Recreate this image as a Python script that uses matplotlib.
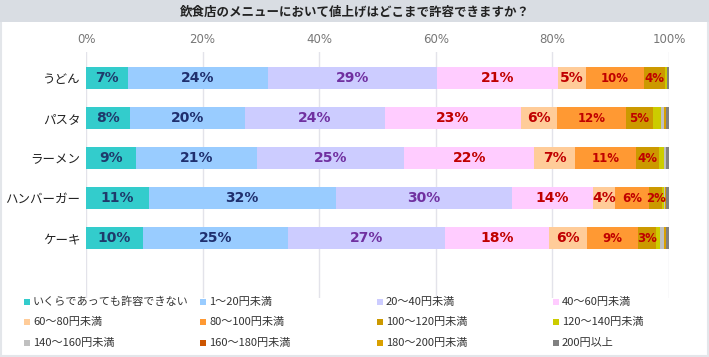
import matplotlib
matplotlib.use("Agg")
import matplotlib.pyplot as plt
from matplotlib.patches import Rectangle
import numpy as np

plt.rcParams['font.family'] = ['Noto Sans CJK JP', 'DejaVu Sans']

title = "飲食店のメニューにおいて値上げはどこまで許容できますか？"
categories = ["うどん", "パスタ", "ラーメン", "ハンバーガー", "ケーキ"]
series_names = ["いくらであっても許容できない", "1～20円未満", "20～40円未満", "40～60円未満",
                "60～80円未満", "80～100円未満", "100～120円未満", "120～140円未満",
                "140～160円未満", "160～180円未満", "180～200円未満", "200円以上"]
# values per series, order of categories
v_none   = [7.2, 7.5, 8.6, 10.8, 9.8]
v_1_20   = [24.0, 19.8, 20.7, 32.0, 24.9]
v_20_40  = [29.0, 24.0, 25.3, 30.2, 26.8]
v_40_60  = [20.8, 23.3, 22.3, 13.9, 18.0]
v_60_80  = [4.8, 6.2, 6.9, 3.9, 6.5]
v_80_100 = [9.9, 11.8, 10.6, 5.8, 8.7]
v_100_120 = [3.6, 4.6, 3.8, 2.2, 3.1]
v_120_140 = [0.4, 1.4, 0.9, 0.3, 0.6]
v_140_160 = [0.0, 0.6, 0.3, 0.2, 0.8]
v_160_180 = [0.0, 0.0, 0.0, 0.0, 0.0]
v_180_200 = [0.0, 0.2, 0.1, 0.1, 0.2]
v_200 = [0.5, 0.9, 0.5, 0.6, 0.9]
values = [v_none, v_1_20, v_20_40, v_40_60, v_60_80, v_80_100, v_100_120,
          v_120_140, v_140_160, v_160_180, v_180_200, v_200]
ticks = [0, 20, 40, 60, 80, 100]
tick_labels = ["0%", "20%", "40%", "60%", "80%", "100%"]

colors = ["#33CCCC", "#99CCFF", "#CCCCFF", "#FFCCFF", "#FFCC99", "#FF9933",
          "#CC9900", "#CCCC00", "#C0C0C0", "#CC5500", "#D9A000", "#808080"]
label_colors = ["#1F3A6B", "#1F2F6E", "#7030A0", "#C00000", "#C00000", "#C00000",
                "#C00000", None, None, None, None, None]
label_sizes = [10, 10, 10, 10, 10, 8.5, 8.5, 8, 8, 8, 8, 8]

W, H = 709, 357
fig = plt.figure(figsize=(W/100, H/100), dpi=100)
fig.patch.set_facecolor("white")
# border
fig.add_artist(Rectangle((0.002, 0.004), 0.996, 0.993, transform=fig.transFigure,
                         fill=False, edgecolor="#E3E6EA", linewidth=1.5))
# title band
fig.add_artist(Rectangle((0, 1 - 22/H), 1, 22/H, transform=fig.transFigure,
                         facecolor="#D9DDE3", edgecolor="none"))
fig.text(0.5, 1 - 12/H, title, ha="center", va="center", fontsize=9,
         fontweight="bold", color="#222222")

ax = fig.add_axes([86/W, 1 - 298/H, (669-86)/W, (298-52)/H])
y = np.arange(len(categories))
left = np.zeros(len(categories))
for i, (vals, c) in enumerate(zip(values, colors)):
    vals = np.array(vals)
    ax.barh(y, vals, left=left, height=0.56, color=c, label=series_names[i], zorder=3)
    if label_colors[i] is not None:
        for j in range(len(categories)):
            if vals[j] >= 1.5:
                ax.text(left[j] + vals[j]/2, y[j], f"{round(vals[j])}%", ha="center",
                        va="center", fontsize=label_sizes[i], fontweight="bold",
                        color=label_colors[i], family="DejaVu Sans", zorder=4)
    left += vals

ax.set_xlim(0, 100)
ax.set_ylim(len(categories) - 1 + 1.5, -0.65)
ax.set_xticks(ticks)
ax.set_xticklabels(tick_labels, color="#777777", fontsize=8.5, family="DejaVu Sans")
ax.xaxis.tick_top()
ax.tick_params(axis="x", length=0, pad=4)
ax.set_yticks(y)
ax.set_yticklabels(categories, fontsize=9, color="#222222")
ax.tick_params(axis="y", length=0, pad=4)
ax.grid(axis="x", color="#E3E3EA", linewidth=1, zorder=0)
for s in ax.spines.values():
    s.set_visible(False)

# legend drawn manually: 4 columns x 3 rows, row-major order
col_x = [24, 200, 377, 553]
row_y = [302, 322, 343]
sq = 6
for k, (name, c) in enumerate(zip(series_names, colors)):
    r, cc = divmod(k, 4)
    x0 = col_x[cc]
    yc = row_y[r]
    fig.add_artist(Rectangle((x0/W, 1 - (yc + sq/2)/H), sq/W, sq/H,
                             transform=fig.transFigure, facecolor=c, edgecolor="none"))
    fig.text((x0 + sq + 3)/W, 1 - yc/H, name, ha="left", va="center",
             fontsize=8, color="#333333")

fig.savefig("out.png", dpi=100, facecolor="white")
